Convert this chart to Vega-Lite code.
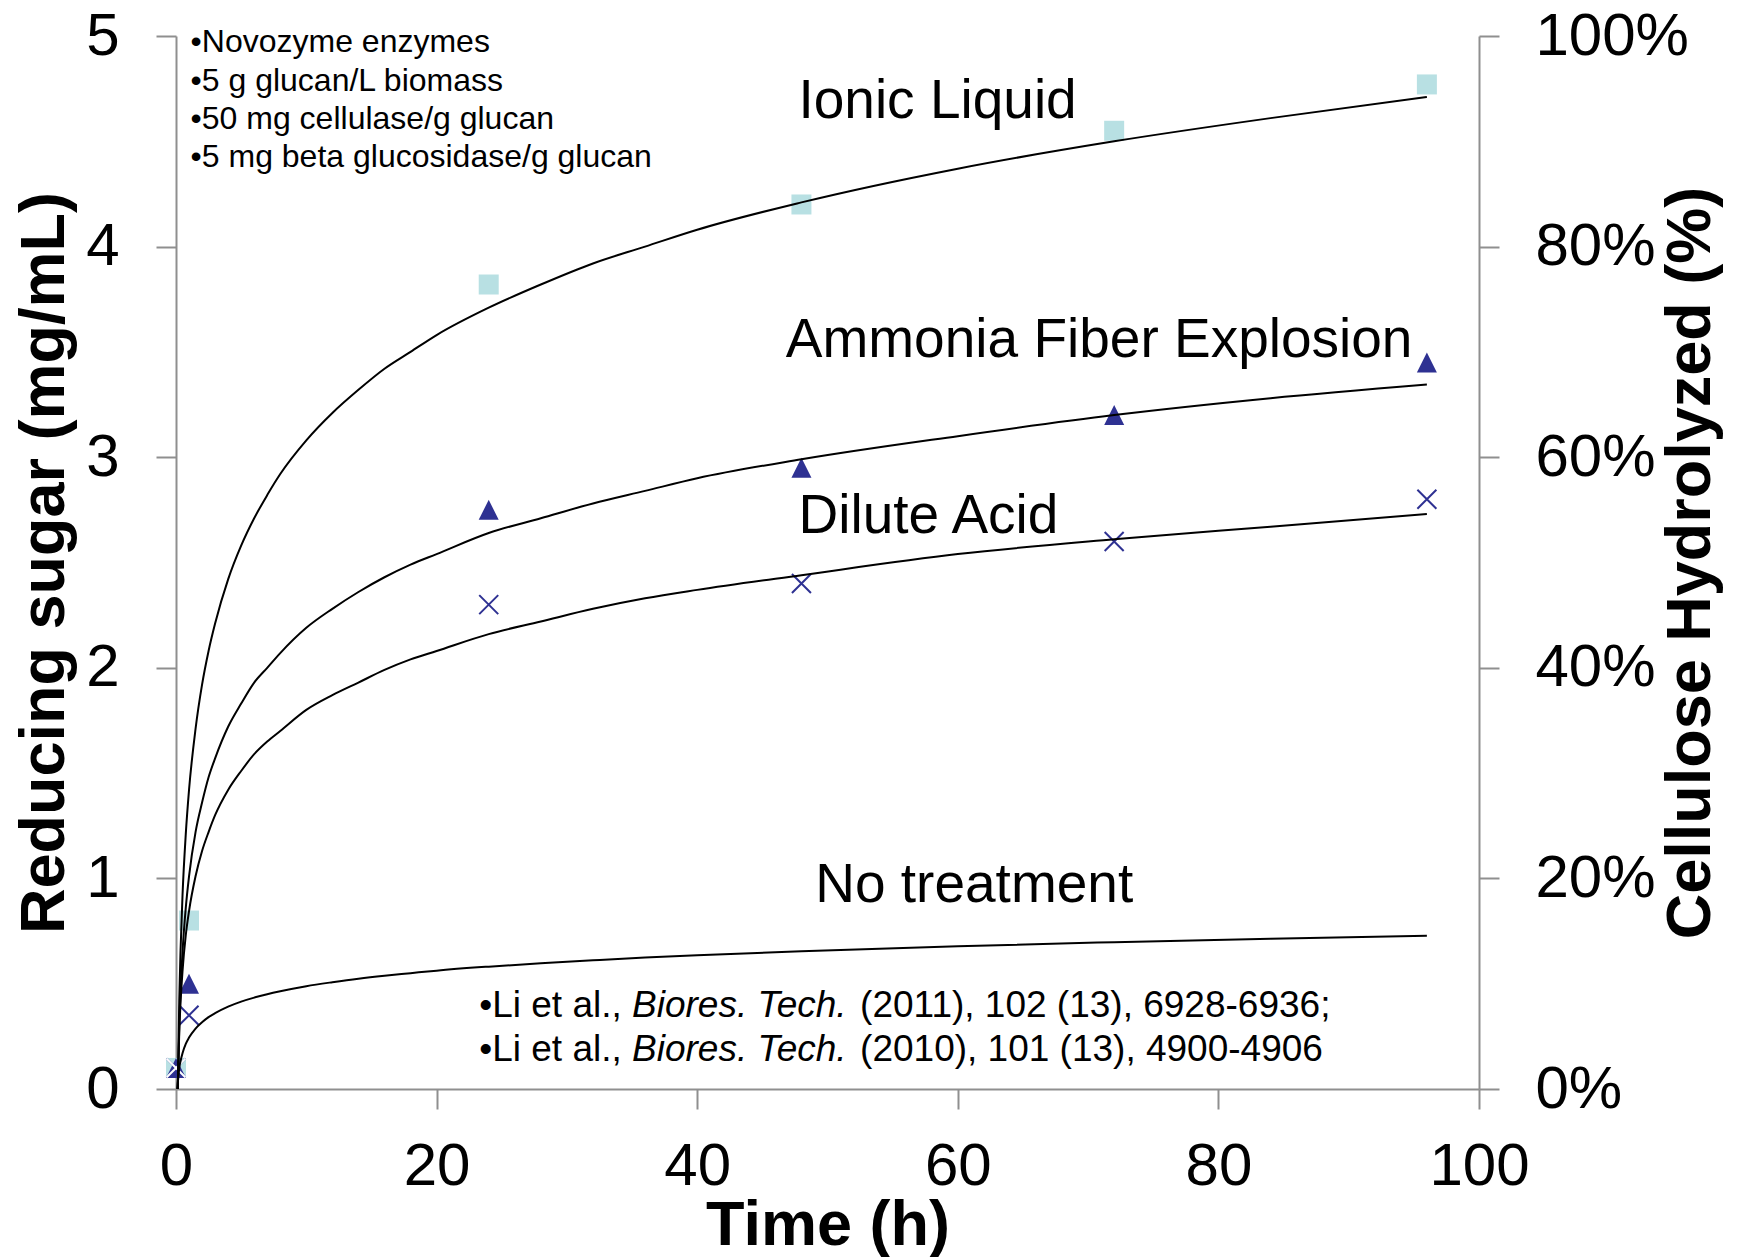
{
  "$schema": "https://vega.github.io/schema/vega-lite/v6.json",
  "width": 1303,
  "height": 1053,
  "autosize": {"type": "none"},
  "padding": {"left": 176, "top": 36, "right": 263, "bottom": 168},
  "background": "white",
  "config": {
    "view": {"stroke": null},
    "font": "Liberation Sans",
    "axis": {
      "grid": false,
      "domainColor": "#8f8f8f",
      "domainWidth": 2,
      "tickColor": "#8f8f8f",
      "tickWidth": 2,
      "tickSize": 20,
      "labelFont": "Liberation Sans",
      "labelFontSize": 60,
      "labelColor": "black",
      "labelFlush": false,
      "labelOverlap": false,
      "labelBound": false,
      "titleFont": "Liberation Sans",
      "titleFontSize": 63,
      "titleFontWeight": "bold",
      "titleColor": "black"
    }
  },
  "datasets": {
    "curves": [
      {"series": "Ionic Liquid", "time": 0.14, "sugar": 0},
      {"series": "Ionic Liquid", "time": 0.25, "sugar": 0.42},
      {"series": "Ionic Liquid", "time": 0.35, "sugar": 0.66},
      {"series": "Ionic Liquid", "time": 0.5, "sugar": 0.92},
      {"series": "Ionic Liquid", "time": 0.75, "sugar": 1.21},
      {"series": "Ionic Liquid", "time": 1, "sugar": 1.42},
      {"series": "Ionic Liquid", "time": 1.5, "sugar": 1.71},
      {"series": "Ionic Liquid", "time": 2, "sugar": 1.92},
      {"series": "Ionic Liquid", "time": 2.5, "sugar": 2.08},
      {"series": "Ionic Liquid", "time": 3, "sugar": 2.21},
      {"series": "Ionic Liquid", "time": 4, "sugar": 2.42},
      {"series": "Ionic Liquid", "time": 5, "sugar": 2.58},
      {"series": "Ionic Liquid", "time": 6, "sugar": 2.71},
      {"series": "Ionic Liquid", "time": 7, "sugar": 2.82},
      {"series": "Ionic Liquid", "time": 8, "sugar": 2.92},
      {"series": "Ionic Liquid", "time": 10, "sugar": 3.08},
      {"series": "Ionic Liquid", "time": 12, "sugar": 3.21},
      {"series": "Ionic Liquid", "time": 14, "sugar": 3.32},
      {"series": "Ionic Liquid", "time": 16, "sugar": 3.42},
      {"series": "Ionic Liquid", "time": 18, "sugar": 3.5},
      {"series": "Ionic Liquid", "time": 20, "sugar": 3.58},
      {"series": "Ionic Liquid", "time": 24, "sugar": 3.71},
      {"series": "Ionic Liquid", "time": 28, "sugar": 3.82},
      {"series": "Ionic Liquid", "time": 32, "sugar": 3.92},
      {"series": "Ionic Liquid", "time": 36, "sugar": 4.0},
      {"series": "Ionic Liquid", "time": 40, "sugar": 4.08},
      {"series": "Ionic Liquid", "time": 48, "sugar": 4.21},
      {"series": "Ionic Liquid", "time": 60, "sugar": 4.37},
      {"series": "Ionic Liquid", "time": 72, "sugar": 4.5},
      {"series": "Ionic Liquid", "time": 84, "sugar": 4.61},
      {"series": "Ionic Liquid", "time": 96, "sugar": 4.71},
      {"series": "AFEX", "time": 0.14, "sugar": 0},
      {"series": "AFEX", "time": 0.25, "sugar": 0.3},
      {"series": "AFEX", "time": 0.35, "sugar": 0.47},
      {"series": "AFEX", "time": 0.5, "sugar": 0.65},
      {"series": "AFEX", "time": 0.75, "sugar": 0.86},
      {"series": "AFEX", "time": 1, "sugar": 1.01},
      {"series": "AFEX", "time": 1.5, "sugar": 1.22},
      {"series": "AFEX", "time": 2, "sugar": 1.36},
      {"series": "AFEX", "time": 2.5, "sugar": 1.48},
      {"series": "AFEX", "time": 3, "sugar": 1.57},
      {"series": "AFEX", "time": 4, "sugar": 1.72},
      {"series": "AFEX", "time": 5, "sugar": 1.83},
      {"series": "AFEX", "time": 6, "sugar": 1.93},
      {"series": "AFEX", "time": 7, "sugar": 2.0},
      {"series": "AFEX", "time": 8, "sugar": 2.07},
      {"series": "AFEX", "time": 10, "sugar": 2.19},
      {"series": "AFEX", "time": 12, "sugar": 2.28},
      {"series": "AFEX", "time": 14, "sugar": 2.36},
      {"series": "AFEX", "time": 16, "sugar": 2.43},
      {"series": "AFEX", "time": 18, "sugar": 2.49},
      {"series": "AFEX", "time": 20, "sugar": 2.54},
      {"series": "AFEX", "time": 24, "sugar": 2.64},
      {"series": "AFEX", "time": 28, "sugar": 2.71},
      {"series": "AFEX", "time": 32, "sugar": 2.78},
      {"series": "AFEX", "time": 36, "sugar": 2.84},
      {"series": "AFEX", "time": 40, "sugar": 2.9},
      {"series": "AFEX", "time": 48, "sugar": 2.99},
      {"series": "AFEX", "time": 60, "sugar": 3.1},
      {"series": "AFEX", "time": 72, "sugar": 3.2},
      {"series": "AFEX", "time": 84, "sugar": 3.28},
      {"series": "AFEX", "time": 96, "sugar": 3.345},
      {"series": "Dilute Acid", "time": 0.13, "sugar": 0},
      {"series": "Dilute Acid", "time": 0.25, "sugar": 0.27},
      {"series": "Dilute Acid", "time": 0.35, "sugar": 0.41},
      {"series": "Dilute Acid", "time": 0.5, "sugar": 0.56},
      {"series": "Dilute Acid", "time": 0.75, "sugar": 0.73},
      {"series": "Dilute Acid", "time": 1, "sugar": 0.845},
      {"series": "Dilute Acid", "time": 1.5, "sugar": 1.01},
      {"series": "Dilute Acid", "time": 2, "sugar": 1.13},
      {"series": "Dilute Acid", "time": 2.5, "sugar": 1.22},
      {"series": "Dilute Acid", "time": 3, "sugar": 1.3},
      {"series": "Dilute Acid", "time": 4, "sugar": 1.42},
      {"series": "Dilute Acid", "time": 5, "sugar": 1.51},
      {"series": "Dilute Acid", "time": 6, "sugar": 1.59},
      {"series": "Dilute Acid", "time": 7, "sugar": 1.65},
      {"series": "Dilute Acid", "time": 8, "sugar": 1.7},
      {"series": "Dilute Acid", "time": 10, "sugar": 1.8},
      {"series": "Dilute Acid", "time": 12, "sugar": 1.87},
      {"series": "Dilute Acid", "time": 14, "sugar": 1.93},
      {"series": "Dilute Acid", "time": 16, "sugar": 1.99},
      {"series": "Dilute Acid", "time": 18, "sugar": 2.04},
      {"series": "Dilute Acid", "time": 20, "sugar": 2.08},
      {"series": "Dilute Acid", "time": 24, "sugar": 2.16},
      {"series": "Dilute Acid", "time": 28, "sugar": 2.22},
      {"series": "Dilute Acid", "time": 32, "sugar": 2.28},
      {"series": "Dilute Acid", "time": 36, "sugar": 2.33},
      {"series": "Dilute Acid", "time": 40, "sugar": 2.37},
      {"series": "Dilute Acid", "time": 48, "sugar": 2.44},
      {"series": "Dilute Acid", "time": 60, "sugar": 2.54},
      {"series": "Dilute Acid", "time": 72, "sugar": 2.61},
      {"series": "Dilute Acid", "time": 84, "sugar": 2.67},
      {"series": "Dilute Acid", "time": 96, "sugar": 2.73},
      {"series": "No treatment", "time": 0.1, "sugar": 0},
      {"series": "No treatment", "time": 0.25, "sugar": 0.1},
      {"series": "No treatment", "time": 0.35, "sugar": 0.133},
      {"series": "No treatment", "time": 0.5, "sugar": 0.17},
      {"series": "No treatment", "time": 0.75, "sugar": 0.214},
      {"series": "No treatment", "time": 1, "sugar": 0.244},
      {"series": "No treatment", "time": 1.5, "sugar": 0.287},
      {"series": "No treatment", "time": 2, "sugar": 0.317},
      {"series": "No treatment", "time": 2.5, "sugar": 0.341},
      {"series": "No treatment", "time": 3, "sugar": 0.36},
      {"series": "No treatment", "time": 4, "sugar": 0.391},
      {"series": "No treatment", "time": 5, "sugar": 0.415},
      {"series": "No treatment", "time": 6, "sugar": 0.434},
      {"series": "No treatment", "time": 7, "sugar": 0.45},
      {"series": "No treatment", "time": 8, "sugar": 0.464},
      {"series": "No treatment", "time": 10, "sugar": 0.488},
      {"series": "No treatment", "time": 12, "sugar": 0.507},
      {"series": "No treatment", "time": 14, "sugar": 0.524},
      {"series": "No treatment", "time": 16, "sugar": 0.538},
      {"series": "No treatment", "time": 18, "sugar": 0.55},
      {"series": "No treatment", "time": 20, "sugar": 0.562},
      {"series": "No treatment", "time": 24, "sugar": 0.581},
      {"series": "No treatment", "time": 28, "sugar": 0.597},
      {"series": "No treatment", "time": 32, "sugar": 0.611},
      {"series": "No treatment", "time": 36, "sugar": 0.624},
      {"series": "No treatment", "time": 40, "sugar": 0.635},
      {"series": "No treatment", "time": 48, "sugar": 0.654},
      {"series": "No treatment", "time": 60, "sugar": 0.678},
      {"series": "No treatment", "time": 72, "sugar": 0.697},
      {"series": "No treatment", "time": 84, "sugar": 0.714},
      {"series": "No treatment", "time": 96, "sugar": 0.728}
    ],
    "points": [
      {"series": "Ionic Liquid", "time": 0, "sugar": 0.1},
      {"series": "Ionic Liquid", "time": 1, "sugar": 0.8},
      {"series": "Ionic Liquid", "time": 24, "sugar": 3.82},
      {"series": "Ionic Liquid", "time": 48, "sugar": 4.2},
      {"series": "Ionic Liquid", "time": 72, "sugar": 4.55},
      {"series": "Ionic Liquid", "time": 96, "sugar": 4.77},
      {"series": "AFEX", "time": 0, "sugar": 0.1},
      {"series": "AFEX", "time": 1, "sugar": 0.5},
      {"series": "AFEX", "time": 24, "sugar": 2.75},
      {"series": "AFEX", "time": 48, "sugar": 2.95},
      {"series": "AFEX", "time": 72, "sugar": 3.2},
      {"series": "AFEX", "time": 96, "sugar": 3.45},
      {"series": "Dilute Acid", "time": 0, "sugar": 0.1},
      {"series": "Dilute Acid", "time": 1, "sugar": 0.35},
      {"series": "Dilute Acid", "time": 24, "sugar": 2.3},
      {"series": "Dilute Acid", "time": 48, "sugar": 2.4},
      {"series": "Dilute Acid", "time": 72, "sugar": 2.6},
      {"series": "Dilute Acid", "time": 96, "sugar": 2.8},
      {"series": "No treatment", "time": 0, "sugar": 0.1}
    ]
  },
  "layer": [
    {
      "data": {"name": "points"},
      "transform": [{"filter": "datum.series === 'Ionic Liquid'"}],
      "mark": {"type": "point", "shape": "square", "filled": true, "color": "#b8e0e3", "opacity": 1, "size": 400},
      "encoding": {
        "x": {"field": "time", "type": "quantitative", "scale": {"domain": [0, 100], "nice": false}},
        "y": {
          "field": "sugar",
          "type": "quantitative",
          "scale": {"domain": [0, 5], "nice": false},
          "axis": {
            "orient": "right",
            "values": [0, 1, 2, 3, 4, 5],
            "labelExpr": "format(datum.value / 5, '.0%')",
            "labelPadding": 36,
            "title": "Cellulose Hydrolyzed (%)",
            "titleAngle": 270,
            "titleX": 230,
            "titleY": 526.5,
            "titleAlign": "center",
            "titleBaseline": "alphabetic"
          }
        }
      }
    },
    {
      "data": {"name": "points"},
      "transform": [{"filter": "datum.series === 'AFEX'"}],
      "mark": {"type": "point", "shape": "M0,-1L1,1L-1,1Z", "filled": true, "color": "#2e3192", "opacity": 1, "size": 400},
      "encoding": {
        "x": {"field": "time", "type": "quantitative"},
        "y": {"field": "sugar", "type": "quantitative", "axis": null}
      }
    },
    {
      "data": {"name": "points"},
      "transform": [{"filter": "datum.series === 'Dilute Acid'"}],
      "mark": {"type": "point", "shape": "M-1,-1L1,1M-1,1L1,-1", "filled": false, "color": "#2e3192", "opacity": 1, "strokeWidth": 2, "size": 361},
      "encoding": {
        "x": {"field": "time", "type": "quantitative"},
        "y": {"field": "sugar", "type": "quantitative", "axis": null}
      }
    },
    {
      "data": {"name": "points"},
      "transform": [{"filter": "datum.series === 'No treatment'"}],
      "mark": {"type": "point", "shape": "M-1,-1L1,1M-1,1L1,-1", "filled": false, "color": "white", "opacity": 1, "strokeWidth": 2, "size": 361},
      "encoding": {
        "x": {"field": "time", "type": "quantitative"},
        "y": {"field": "sugar", "type": "quantitative", "axis": null}
      }
    },
    {
      "data": {"name": "curves"},
      "mark": {"type": "line", "color": "black", "strokeWidth": 2, "interpolate": "monotone"},
      "encoding": {
        "x": {
          "field": "time",
          "type": "quantitative",
          "axis": {
            "values": [0, 20, 40, 60, 80, 100],
            "labelPadding": 28,
            "title": "Time (h)",
            "titleX": 651.5,
            "titleY": 155,
            "titleAlign": "center",
            "titleBaseline": "alphabetic"
          }
        },
        "y": {
          "field": "sugar",
          "type": "quantitative",
          "axis": {
            "orient": "left",
            "values": [0, 1, 2, 3, 4, 5],
            "labelPadding": 37,
            "title": "Reducing sugar (mg/mL)",
            "titleAngle": 270,
            "titleX": -113,
            "titleY": 526.5,
            "titleAlign": "center",
            "titleBaseline": "alphabetic"
          }
        },
        "detail": {"field": "series"}
      }
    },
    {
      "data": {"values": [
        {"time": 47.77, "sugar": 4.613, "label": "Ionic Liquid"},
        {"time": 46.8, "sugar": 3.476, "label": "Ammonia Fiber Explosion"},
        {"time": 47.78, "sugar": 2.64, "label": "Dilute Acid"},
        {"time": 49.06, "sugar": 0.888, "label": "No treatment"}
      ]},
      "mark": {"type": "text", "align": "left", "baseline": "alphabetic", "fontSize": 55, "color": "black", "font": "Liberation Sans"},
      "encoding": {
        "x": {"field": "time", "type": "quantitative"},
        "y": {"field": "sugar", "type": "quantitative", "axis": null},
        "text": {"field": "label"}
      }
    },
    {
      "data": {"values": [
        {"time": 1.12, "sugar": 4.922, "label": "•Novozyme enzymes"},
        {"time": 1.12, "sugar": 4.741, "label": "•5 g glucan/L biomass"},
        {"time": 1.12, "sugar": 4.56, "label": "•50 mg cellulase/g glucan"},
        {"time": 1.12, "sugar": 4.379, "label": "•5 mg beta glucosidase/g glucan"}
      ]},
      "mark": {"type": "text", "align": "left", "baseline": "alphabetic", "fontSize": 32, "color": "black", "font": "Liberation Sans"},
      "encoding": {
        "x": {"field": "time", "type": "quantitative"},
        "y": {"field": "sugar", "type": "quantitative", "axis": null},
        "text": {"field": "label"}
      }
    },
    {
      "data": {"values": [
        {"time": 23.27, "sugar": 0.343, "label": "•Li et al.,"},
        {"time": 52.5, "sugar": 0.343, "label": "(2011), 102 (13), 6928-6936;"},
        {"time": 23.27, "sugar": 0.133, "label": "•Li et al.,"},
        {"time": 52.5, "sugar": 0.133, "label": "(2010), 101 (13), 4900-4906"}
      ]},
      "mark": {"type": "text", "align": "left", "baseline": "alphabetic", "fontSize": 37, "color": "black", "font": "Liberation Sans"},
      "encoding": {
        "x": {"field": "time", "type": "quantitative"},
        "y": {"field": "sugar", "type": "quantitative", "axis": null},
        "text": {"field": "label"}
      }
    },
    {
      "data": {"values": [
        {"time": 35.0, "sugar": 0.343, "label": "Biores. Tech."},
        {"time": 35.0, "sugar": 0.133, "label": "Biores. Tech."}
      ]},
      "mark": {"type": "text", "align": "left", "baseline": "alphabetic", "fontSize": 37, "fontStyle": "italic", "color": "black", "font": "Liberation Sans"},
      "encoding": {
        "x": {"field": "time", "type": "quantitative"},
        "y": {"field": "sugar", "type": "quantitative", "axis": null},
        "text": {"field": "label"}
      }
    }
  ],
  "resolve": {"axis": {"y": "independent"}}
}
